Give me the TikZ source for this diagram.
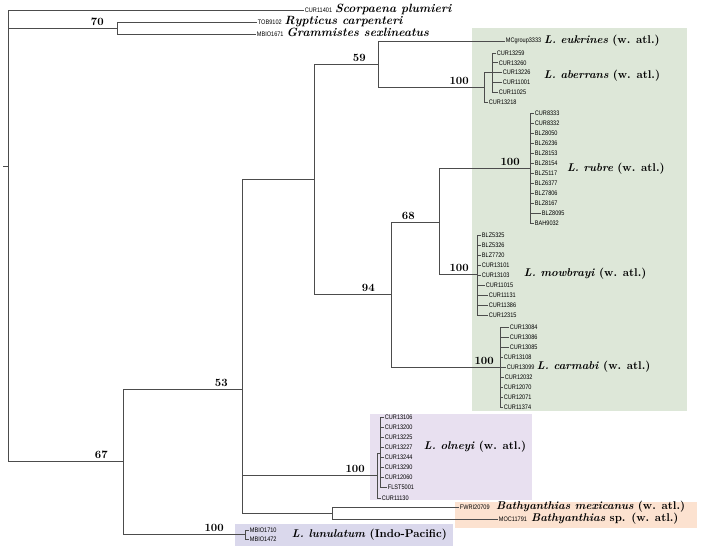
\documentclass[tikz,border=0pt]{standalone}
\usepackage{fontspec}
\newfontfamily\idfont[FakeStretch=0.85]{Liberation Sans}
\definecolor{atlgreen}{RGB}{221,231,216}
\definecolor{olnpurple}{RGB}{232,224,240}
\definecolor{bathorange}{RGB}{252,226,208}
\definecolor{lunblue}{RGB}{218,216,236}
\begin{document}
\begin{tikzpicture}[x=0.03cm,y=-0.03cm,
  branch/.style={draw=black!70,line width=0.6pt},
  leaf/.style={inner sep=0.6pt,anchor=west,font=\idfont\fontsize{5.6}{6}\selectfont},
  species/.style={inner sep=1.5pt,anchor=west,font=\fontsize{9.6}{11}\selectfont\bfseries},
  outgroup/.style={species,inner ysep=0pt,text height=0.6em,text depth=0.12em,
    font=\fontsize{10.2}{12}\selectfont\bfseries\itshape},
  support/.style={inner sep=0pt,anchor=south east,font=\fontsize{9.5}{11}\selectfont\bfseries}]
\useasboundingbox (0,0) rectangle (702,548);
\newcommand{\taxon}[3]{
  \node[leaf] (#1) at (#2,#3) {#1};
}
\newcommand{\bootval}[3]{
  \path (#1) ++(-#2,-2) node[support] (s-#1) {#3};
}

% shaded clades
\fill[atlgreen] (472,28) rectangle (687,411);
\fill[olnpurple] (370,414) rectangle (532,500);
\fill[bathorange] (455,502) rectangle (697,528);
\fill[lunblue] (235,524) rectangle (453,546);

% internal nodes
\coordinate (root) at (8,166);
\coordinate (n70) at (117,28);
\coordinate (n67) at (123,461);
\coordinate (n53) at (242,389);
\coordinate (nA) at (314,179);
\coordinate (n59) at (378,64);
\coordinate (n94) at (391,294);
\coordinate (n68) at (439,222);
\coordinate (abe) at (484,87);
\coordinate (abi) at (492,72);
\coordinate (rub) at (530,168);
\coordinate (mow) at (477,274);
\coordinate (car) at (500,367);
\coordinate (oln) at (377,475);
\coordinate (oli) at (380,453);
\coordinate (bat) at (332,513);
\coordinate (lun) at (245,534);

\draw[branch] (root) -- ++(-5,0);
\foreach \a/\b in {root/n70,root/n67,n67/n53,n67/lun,n53/nA,n53/oln,n53/bat,
  nA/n59,nA/n94,n59/abe,abe/abi,n94/n68,n94/car,n68/rub,n68/mow,oln/oli}
  \draw[branch] (\a) |- (\b);

% single tips
\taxon{CUR11401}{304}{10}
\taxon{TOB9102}{257}{22}
\taxon{MBIO1671}{256}{34}
\taxon{MCgroup3333}{505}{41}
\taxon{FWRI20709}{459}{507}
\taxon{MOC11791}{498}{519}
\foreach \a/\b in {root/CUR11401,n70/TOB9102,n70/MBIO1671,n59/MCgroup3333,
  bat/FWRI20709,bat/MOC11791}
  \draw[branch] (\a) |- (\b.west);

% L. aberrans
\foreach \id/\x [count=\i from 0] in {CUR13259/496,CUR13260/498,CUR13226/502,
  CUR11001/502,CUR11025/498}{
  \taxon{\id}{\x}{53+9.8*\i}
  \draw[branch] (abi) |- (\id.west);
}
\taxon{CUR13218}{488}{102}
\draw[branch] (abe) |- (CUR13218.west);

% L. rubre
\foreach \id/\x [count=\i from 0] in {CUR8333/534,CUR8332/534,BLZ8050/534,
  BLZ6236/534,BLZ8153/534,BLZ8154/534,BLZ5117/534,BLZ6377/534,BLZ7806/534,
  BLZ8167/534,BLZ8095/541,BAH9032/534}{
  \taxon{\id}{\x}{113+10*\i}
  \draw[branch] (rub) |- (\id.west);
}

% L. mowbrayi
\foreach \id/\x [count=\i from 0] in {BLZ5325/481,BLZ5326/481,BLZ7720/481,
  CUR13101/481,CUR13103/481,CUR11015/485,CUR11131/488,CUR11386/488,CUR12315/488}{
  \taxon{\id}{\x}{235+10*\i}
  \draw[branch] (mow) |- (\id.west);
}

% L. carmabi
\foreach \id/\x [count=\i from 0] in {CUR13084/509,CUR13086/509,CUR13085/509,
  CUR13108/503,CUR13099/506,CUR12032/504,CUR12070/503,CUR12071/503,CUR11374/503}{
  \taxon{\id}{\x}{327+10*\i}
  \draw[branch] (car) |- (\id.west);
}

% L. olneyi
\foreach \id/\x [count=\i from 0] in {CUR13106/384,CUR13200/384,CUR13225/384,
  CUR13227/384,CUR13244/384,CUR13290/384,CUR12060/384,FLST5001/387}{
  \taxon{\id}{\x}{417+10.1*\i}
  \draw[branch] (oli) |- (\id.west);
}
\taxon{CUR11130}{381}{498}
\draw[branch] (oln) |- (CUR11130.west);

% L. lunulatum
\taxon{MBIO1710}{249}{530}
\taxon{MBIO1472}{249}{539}
\draw[branch] (lun) |- (MBIO1710.west);
\draw[branch] (lun) |- (MBIO1472.west);

% names
\node[outgroup] (scor) at (CUR11401.east) {Scorpaena plumieri};
\node[outgroup] (rypt) at (TOB9102.east) {Rypticus carpenteri};
\node[outgroup] (gram) at (MBIO1671.east) {Grammistes sexlineatus};
\node[species] (eukr) at (MCgroup3333.east) {\textit{L. eukrines} (w. atl.)};
\node[species] (aber) at (542,76) {\textit{L. aberrans} (w. atl.)};
\node[species] (rubr) at (565,169) {\textit{L. rubre} (w. atl.)};
\node[species] (mowb) at (522,274) {\textit{L. mowbrayi} (w. atl.)};
\node[species] (carm) at (535,367) {\textit{L. carmabi} (w. atl.)};
\node[species] (olne) at (422,447) {\textit{L. olneyi} (w. atl.)};
\node[species] (bmex) at ([xshift=3pt]FWRI20709.east) {\textit{Bathyanthias mexicanus} (w. atl.)};
\node[species] (bsp) at ([xshift=1pt]MOC11791.east) {\textit{Bathyanthias} sp. (w. atl.)};
\node[species] (luna) at (290,535) {\textit{L. lunulatum} (Indo-Pacific)};

% bootstrap values
\bootval{n70}{13}{70}
\bootval{n67}{15}{67}
\bootval{n53}{14}{53}
\bootval{n59}{12}{59}
\bootval{n94}{16}{94}
\bootval{n68}{24}{68}
\bootval{abe}{15}{100}
\bootval{rub}{10}{100}
\bootval{mow}{8}{100}
\bootval{car}{6}{100}
\bootval{oln}{12}{100}
\bootval{lun}{21}{100}
\end{tikzpicture}
\end{document}
